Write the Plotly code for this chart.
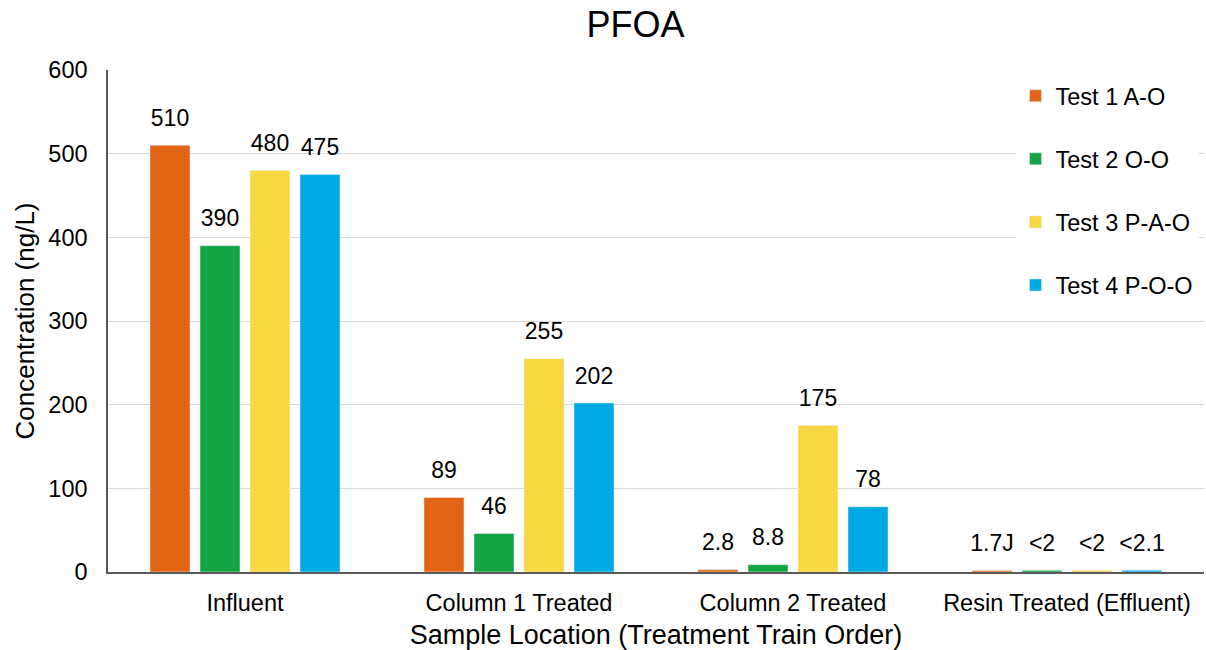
import plotly.graph_objects as go

# Sampling locations along the treatment train
locations = ["Influent", "Column 1 Treated", "Column 2 Treated", "Resin Treated (Effluent)"]

# PFOA concentrations (ng/L) per test
test1_vals = [510, 89, 2.8, 1.7]
test2_vals = [390, 46, 8.8, 2]
test3_vals = [480, 255, 175, 2]
test4_vals = [475, 202, 78, 2.1]

# Printed labels (qualifiers for estimated / non-detect results)
test1_labels = ["510", "89", "2.8", "1.7J"]
test2_labels = ["390", "46", "8.8", "<2"]
test3_labels = ["480", "255", "175", "<2"]
test4_labels = ["475", "202", "78", "<2.1"]

series_names = ["Test 1 A-O", "Test 2 O-O", "Test 3 P-A-O", "Test 4 P-O-O"]
colors = ["#E36414", "#13A545", "#F7D840", "#00A9E3"]

FONT = "Liberation Sans, Arial, sans-serif"
FS = 23
FS_TICK = 23.5

fig = go.Figure()
all_vals = [test1_vals, test2_vals, test3_vals, test4_vals]
all_labels = [test1_labels, test2_labels, test3_labels, test4_labels]

for i, (name, vals, color) in enumerate(zip(series_names, all_vals, colors)):
    fig.add_trace(go.Bar(
        x=locations, y=vals, name=name, marker_color=color,
        offsetgroup=str(i), legendgroup=str(i),
    ))

# Value labels as grouped text-only scatter points sitting above each bar
for i, (vals, labels) in enumerate(zip(all_vals, all_labels)):
    fig.add_trace(go.Scatter(
        x=locations, y=vals, text=labels, mode="markers+text",
        textposition="top center",
        marker=dict(size=20, color="rgba(0,0,0,0)"),
        textfont=dict(family=FONT, size=FS, color="#000000"),
        offsetgroup=str(i), showlegend=False, hoverinfo="skip",
        cliponaxis=False,
    ))

fig.update_layout(
    width=1206, height=650,
    margin=dict(l=108, r=2, t=70, b=78),
    paper_bgcolor="white", plot_bgcolor="white",
    barmode="group", bargap=0.27, bargroupgap=0.2,
    scattermode="group", scattergap=0.27,
    title=dict(text="PFOA", x=0.527, xref="container", y=0.963, yanchor="middle",
               font=dict(family=FONT, size=36, color="#000000")),
    font=dict(family=FONT, size=FS, color="#000000"),
    legend=dict(x=0.995, y=0.992, xanchor="right", yanchor="top",
                bgcolor="white", font=dict(family=FONT, size=FS_TICK),
                tracegroupgap=29.5, itemwidth=30),
    showlegend=True,
)

fig.update_xaxes(
    title=dict(text="Sample Location (Treatment Train Order)",
               font=dict(family=FONT, size=27), standoff=11),
    showline=True, linecolor="#595959", linewidth=1.5,
    ticks="", tickfont=dict(family=FONT, size=FS_TICK), ticklabelstandoff=9,
)
fig.update_yaxes(
    title=dict(text="Concentration (ng/L)", font=dict(family=FONT, size=26), standoff=6),
    range=[0, 600], dtick=100,
    showline=True, linecolor="#595959", linewidth=1.5,
    showgrid=True, gridcolor="#D9D9D9", gridwidth=1,
    zeroline=False, ticks="", tickfont=dict(family=FONT, size=FS_TICK),
    ticklabelstandoff=14,
)

fig.write_html("out.html")
